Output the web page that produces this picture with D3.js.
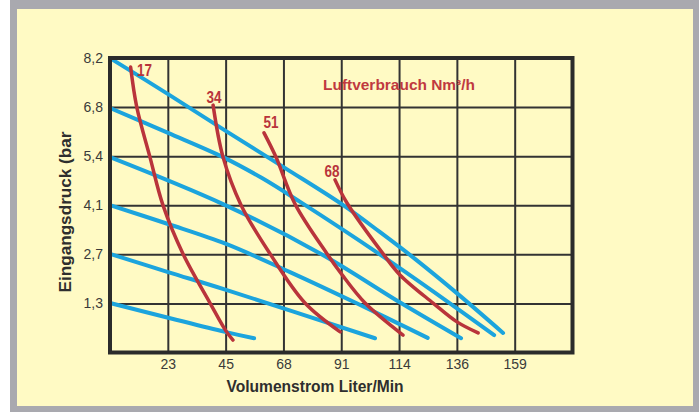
<!DOCTYPE html>
<html>
<head>
<meta charset="utf-8">
<script src="https://cdn.jsdelivr.net/npm/d3@7"></script>
<style>
  html, body { margin: 0; padding: 0; background: #fff; }
  svg { display: block; font-family: "Liberation Sans", Arial, sans-serif; }
</style>
</head>
<body>
<svg id="chart" width="699" height="412"></svg>
<script>
// Achsen (Werte in L/min bzw. bar, Beschriftung wie im Original)
const xTickValues = [22.71, 45.42, 68.13, 90.84, 113.55, 136.26, 158.97];
const xTickLabels = ["23", "45", "68", "91", "114", "136", "159"];
const yTickValues = [1.379, 2.758, 4.137, 5.516, 6.895, 8.274];
const yTickLabels = ["1,3", "2,7", "4,1", "5,4", "6,8", "8,2"];

// Druckkurven (blau): [Volumenstrom L/min, Druck bar]
const blue_8_2 = [[0, 8.27], [22.8, 7.26], [45.6, 6.22], [68.8, 5.18], [91.6, 4.14], [106.1, 3.38], [119.8, 2.63], [136.7, 1.64], [154.4, 0.55]];
const blue_6_8 = [[0, 6.87], [22.8, 6.17], [44.4, 5.49], [59.7, 4.90], [74.7, 4.23], [105.7, 2.77], [131.6, 1.48], [150.9, 0.49]];
const blue_5_4 = [[0, 5.49], [44.4, 4.17], [82.9, 2.77], [114.3, 1.39], [137.9, 0.40]];
const blue_4_1 = [[0, 4.14], [22.8, 3.61], [45.6, 3.05], [70.7, 2.26], [96.7, 1.39], [124.8, 0.41]];
const blue_2_7 = [[0, 2.77], [22.8, 2.26], [45.6, 1.76], [104.1, 0.40]];
const blue_1_3 = [[0, 1.39], [45.2, 0.58], [56.6, 0.40]];

// Luftverbrauch (rot)
const airLabels = ["17", "34", "51", "68"];
const red_17 = [[8.1, 8.02], [10.5, 6.90], [15.7, 5.49], [20.8, 4.14], [28.7, 2.77], [39.3, 1.39], [45.6, 0.60], [48.3, 0.35]];
const red_34 = [[40.5, 6.95], [44.4, 5.49], [51.5, 4.14], [62.9, 2.77], [76.6, 1.39], [90.4, 0.58]];
const red_51 = [[60.5, 6.17], [65.2, 5.49], [72.7, 4.17], [85.3, 2.77], [91.2, 2.18], [100.2, 1.39], [115.1, 0.49]];
const red_68 = [[88.4, 4.85], [93.1, 4.20], [107.3, 2.77], [113.9, 2.18], [126.9, 1.39], [136.3, 0.86], [144.6, 0.55]];

const svg = d3.select("#chart");

// Rahmen und Hintergrund
svg.append("rect").attr("x", 10).attr("y", 0).attr("width", 689).attr("height", 412).attr("fill", "#a9a9af");
svg.append("rect").attr("x", 17).attr("y", 9).attr("width", 676).attr("height", 397).attr("fill", "#fffac4");

const plotLeft = 110, plotTop = 58, plotRight = 572.5, plotBottom = 352.5;

const x = d3.scaleLinear().domain([0, 181.68]).range([plotLeft, plotRight]);
const y = d3.scaleLinear().domain([0, 8.274]).range([plotBottom, plotTop]);

// Gitter + Beschriftung
const gx = svg.append("g")
  .attr("transform", `translate(0,${plotBottom})`)
  .call(d3.axisBottom(x)
    .tickValues(xTickValues)
    .tickFormat((d, i) => xTickLabels[i])
    .tickSize(-(plotBottom - plotTop))
    .tickPadding(7));
gx.select(".domain").remove();
gx.selectAll("line").attr("stroke", "#333").attr("stroke-width", 2);
gx.selectAll("text").attr("font-size", 14).attr("fill", "#3a3a3a")
  .attr("font-family", "'Liberation Sans', Arial, sans-serif");

const gy = svg.append("g")
  .attr("transform", `translate(${plotLeft},0)`)
  .call(d3.axisLeft(y)
    .tickValues(yTickValues)
    .tickFormat((d, i) => yTickLabels[i])
    .tickSize(-(plotRight - plotLeft))
    .tickPadding(7));
gy.select(".domain").remove();
gy.selectAll("line").attr("stroke", "#333").attr("stroke-width", 2);
gy.selectAll("text").attr("font-size", 14).attr("fill", "#3a3a3a")
  .attr("font-family", "'Liberation Sans', Arial, sans-serif");

// Kurven
const line = d3.line()
  .x(d => x(d[0]))
  .y(d => y(d[1]))
  .curve(d3.curveCatmullRom.alpha(0.5));

svg.selectAll(".druck")
  .data([blue_8_2, blue_6_8, blue_5_4, blue_4_1, blue_2_7, blue_1_3])
  .enter()
  .append("path")
  .attr("class", "druck")
  .attr("d", line)
  .attr("fill", "none")
  .attr("stroke", "#1ca4dd")
  .attr("stroke-width", 4)
  .attr("stroke-linecap", "round");

const redLines = [red_17, red_34, red_51, red_68];
svg.selectAll(".luft")
  .data(redLines)
  .enter()
  .append("path")
  .attr("class", "luft")
  .attr("d", line)
  .attr("fill", "none")
  .attr("stroke", "#b9343b")
  .attr("stroke-width", 3.5)
  .attr("stroke-linecap", "round");

// Beschriftung der roten Kurven (Versatz zum Kurvenanfang)
const labelOffsets = [[14, 9], [1, -2], [7, -5], [-3, -3]];
svg.selectAll(".luftlabel")
  .data(redLines)
  .enter()
  .append("text")
  .attr("class", "luftlabel")
  .attr("x", (d, i) => x(d[0][0]) + labelOffsets[i][0])
  .attr("y", (d, i) => y(d[0][1]) + labelOffsets[i][1])
  .attr("text-anchor", "middle")
  .attr("font-size", 17)
  .attr("font-weight", "bold")
  .attr("fill", "#b9343b")
  .attr("textLength", 15)
  .attr("lengthAdjust", "spacingAndGlyphs")
  .text((d, i) => airLabels[i]);

svg.append("text")
  .attr("x", 323)
  .attr("y", 90)
  .attr("font-size", 15)
  .attr("font-weight", "bold")
  .attr("fill", "#c0393f")
  .attr("textLength", 152)
  .attr("lengthAdjust", "spacingAndGlyphs")
  .text("Luftverbrauch Nm³/h");

// Achsentitel
svg.append("text")
  .attr("x", 315)
  .attr("y", 392)
  .attr("text-anchor", "middle")
  .attr("font-size", 16)
  .attr("font-weight", "bold")
  .attr("fill", "#2e2e2e")
  .attr("textLength", 177)
  .attr("lengthAdjust", "spacingAndGlyphs")
  .text("Volumenstrom Liter/Min");

svg.append("text")
  .attr("transform", "translate(71,212) rotate(-90)")
  .attr("text-anchor", "middle")
  .attr("font-size", 16)
  .attr("font-weight", "bold")
  .attr("fill", "#2e2e2e")
  .attr("textLength", 161)
  .attr("lengthAdjust", "spacingAndGlyphs")
  .text("Eingangsdruck (bar");

// Plotrahmen
svg.append("rect")
  .attr("x", plotLeft)
  .attr("y", plotTop)
  .attr("width", plotRight - plotLeft)
  .attr("height", plotBottom - plotTop)
  .attr("fill", "none")
  .attr("stroke", "#2b2b2b")
  .attr("stroke-width", 4);
</script>
</body>
</html>
